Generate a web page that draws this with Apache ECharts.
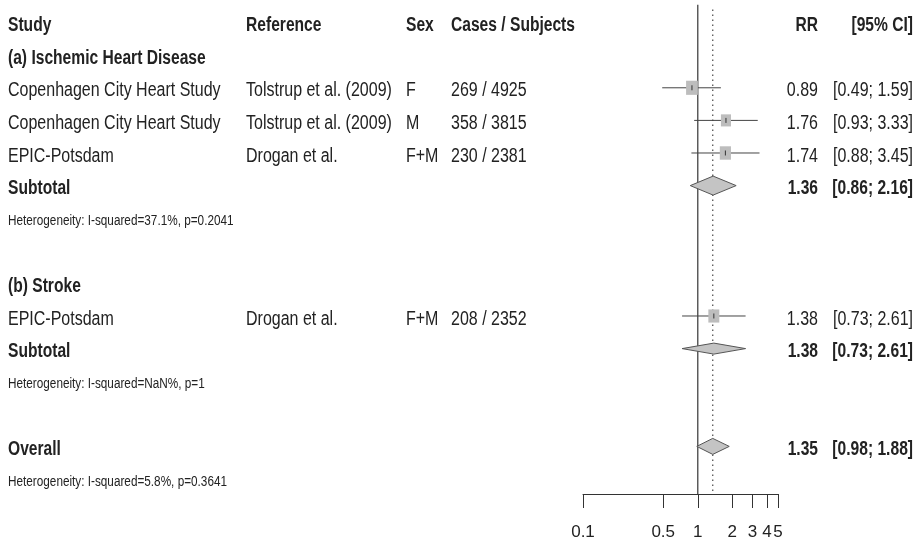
<!DOCTYPE html>
<html>
<head>
<meta charset="utf-8">
<title>Forest plot</title>
<script src="https://cdn.jsdelivr.net/npm/echarts@6/dist/echarts.min.js"></script>
<style>
  html, body { margin: 0; padding: 0; background: #fff; }
  #chart { width: 917px; height: 548px; }
</style>
</head>
<body>
<div id="chart"></div>
<script>
// ---- data ----
const headers = ['Study', 'Reference', 'Sex', 'Cases / Subjects', 'RR', '[95% CI]'];

const studyNames = ['Copenhagen City Heart Study', 'Copenhagen City Heart Study', 'EPIC-Potsdam', 'EPIC-Potsdam'];
const studyRefs = ['Tolstrup et al. (2009)', 'Tolstrup et al. (2009)', 'Drogan et al.', 'Drogan et al.'];
const studySex = ['F', 'M', 'F+M', 'F+M'];
const studyCases = ['269 / 4925', '358 / 3815', '230 / 2381', '208 / 2352'];
const studyRR = [0.89, 1.76, 1.74, 1.38];
const studyLow = [0.49, 0.93, 0.88, 0.73];
const studyHigh = [1.59, 3.33, 3.45, 2.61];
const studyWeight = [30, 22, 27, 26];
const studyRow = [2, 3, 4, 9];

const groupLabels = ['(a) Ischemic Heart Disease', '(b) Stroke'];
const groupRow = [1, 8];

const pooledLabels = ['Subtotal', 'Subtotal', 'Overall'];
const pooledRR = [1.36, 1.38, 1.35];
const pooledLow = [0.86, 0.73, 0.98];
const pooledHigh = [2.16, 2.61, 1.88];
const pooledRow = [5, 10, 13];

const hetLabels = [
  'Heterogeneity: I-squared=37.1%, p=0.2041',
  'Heterogeneity: I-squared=NaN%, p=1',
  'Heterogeneity: I-squared=5.8%, p=0.3641'
];
const hetRow = [6, 11, 14];

const xTicks = [0.1, 0.5, 1, 2, 3, 4, 5];
const nullValue = 1;

// ---- layout / styles ----
const ROW_MIN = -0.693;
const ROW_MAX = 14.46;
const COLS = [
  { x: 8, align: 'left' },
  { x: 246, align: 'left' },
  { x: 406, align: 'left' },
  { x: 451, align: 'left' },
  { x: 818, align: 'right' },
  { x: 913, align: 'right' }
];
// text is drawn horizontally condensed like the original figure
const FONTS = {
  plain: { size: 20, weight: 'normal', scale: 0.8 },
  bold: { size: 19.5, weight: 'bold', scale: 0.8 },
  small: { size: 14, weight: 'normal', scale: 0.84 }
};
const TEXT_DY = 3;
const FAMILY = '"Liberation Sans", Arial, sans-serif';
const SQUARE_K = 2.15;
const DIAMOND_HALF = [9.5, 5.5, 8];

const ci = (lo, hi) => '[' + lo.toFixed(2) + '; ' + hi.toFixed(2) + ']';

// table text
const texts = [];
function put (col, row, text, kind) {
  texts.push({ value: [COLS[col].x, row], text: text, align: COLS[col].align, kind: kind });
}
headers.forEach((h, i) => put(i, 0, h, 'bold'));
groupLabels.forEach((g, i) => put(0, groupRow[i], g, 'bold'));
studyNames.forEach((n, i) => {
  const r = studyRow[i];
  put(0, r, n, 'plain');
  put(1, r, studyRefs[i], 'plain');
  put(2, r, studySex[i], 'plain');
  put(3, r, studyCases[i], 'plain');
  put(4, r, studyRR[i].toFixed(2), 'plain');
  put(5, r, ci(studyLow[i], studyHigh[i]), 'plain');
});
pooledLabels.forEach((p, i) => {
  const r = pooledRow[i];
  put(0, r, p, 'bold');
  put(4, r, pooledRR[i].toFixed(2), 'bold');
  put(5, r, ci(pooledLow[i], pooledHigh[i]), 'bold');
});
hetLabels.forEach((h, i) => put(0, hetRow[i], h, 'small'));

const studyData = studyRR.map((v, i) => [v, studyRow[i], studyLow[i], studyHigh[i], studyWeight[i]]);
const pooledData = pooledRR.map((v, i) => [v, pooledRow[i], pooledLow[i], pooledHigh[i]]);
// solid line at no effect, dotted line at the overall estimate
const refData = [[nullValue, -0.55, 0], [pooledRR[2], -0.4, 1]];

const chart = echarts.init(document.getElementById('chart'));
chart.setOption({
  animation: false,
  grid: [
    { left: 583, width: 195, top: 0, height: 494 },
    { left: 0, width: 917, top: 0, height: 494 }
  ],
  xAxis: [
    {
      type: 'log',
      logBase: 10,
      gridIndex: 0,
      position: 'bottom',
      min: 0.1,
      max: 5,
      splitLine: { show: false },
      axisLine: { onZero: false, lineStyle: { color: '#333', width: 1 } },
      axisTick: { customValues: xTicks, length: 14, lineStyle: { color: '#333', width: 1 } },
      axisLabel: {
        customValues: xTicks,
        margin: 30,
        fontSize: 17,
        fontFamily: FAMILY,
        color: '#222',
        hideOverlap: false,
        formatter: v => String(Math.round(v * 10) / 10)
      }
    },
    { type: 'value', gridIndex: 1, min: 0, max: 917, show: false }
  ],
  yAxis: [
    { type: 'value', gridIndex: 0, inverse: true, min: ROW_MIN, max: ROW_MAX, show: false },
    { type: 'value', gridIndex: 1, inverse: true, min: ROW_MIN, max: ROW_MAX, show: false }
  ],
  series: [
    {
      name: 'reference',
      type: 'custom',
      xAxisIndex: 0,
      yAxisIndex: 0,
      z: 1,
      data: refData,
      renderItem: function (params, api) {
        const top = api.coord([api.value(0), api.value(1)]);
        const bottom = api.coord([api.value(0), ROW_MAX]);
        const dotted = api.value(2) === 1;
        return {
          type: 'line',
          shape: { x1: top[0], y1: top[1], x2: bottom[0], y2: bottom[1] },
          style: { stroke: dotted ? '#555' : '#444', lineWidth: 1.3, lineDash: dotted ? [1.5, 3.5] : null }
        };
      }
    },
    {
      name: 'studies',
      type: 'custom',
      xAxisIndex: 0,
      yAxisIndex: 0,
      z: 3,
      data: studyData,
      renderItem: function (params, api) {
        const row = api.value(1);
        const est = api.coord([api.value(0), row]);
        const lo = api.coord([api.value(2), row]);
        const hi = api.coord([api.value(3), row]);
        const w = SQUARE_K * Math.sqrt(api.value(4));
        const h = w * 1.2;
        return {
          type: 'group',
          children: [
            { type: 'line', shape: { x1: lo[0], y1: lo[1], x2: hi[0], y2: hi[1] }, style: { stroke: '#444', lineWidth: 1 } },
            { type: 'rect', shape: { x: est[0] - w / 2, y: est[1] - h / 2, width: w, height: h }, style: { fill: '#bdbdbd' } },
            { type: 'line', shape: { x1: est[0], y1: est[1] - 2.5, x2: est[0], y2: est[1] + 2.5 }, style: { stroke: '#333', lineWidth: 1 } }
          ]
        };
      }
    },
    {
      name: 'pooled',
      type: 'custom',
      xAxisIndex: 0,
      yAxisIndex: 0,
      z: 3,
      data: pooledData,
      renderItem: function (params, api) {
        const row = api.value(1);
        const c = api.coord([api.value(0), row]);
        const lo = api.coord([api.value(2), row]);
        const hi = api.coord([api.value(3), row]);
        const dh = DIAMOND_HALF[params.dataIndex];
        return {
          type: 'polygon',
          shape: { points: [[lo[0], c[1]], [c[0], c[1] - dh], [hi[0], c[1]], [c[0], c[1] + dh]] },
          style: { fill: '#c4c4c4', stroke: '#555', lineWidth: 1 }
        };
      }
    },
    {
      name: 'table',
      type: 'custom',
      xAxisIndex: 1,
      yAxisIndex: 1,
      z: 4,
      data: texts,
      renderItem: function (params, api) {
        const p = api.coord([api.value(0), api.value(1)]);
        const t = texts[params.dataIndex];
        const f = FONTS[t.kind];
        return {
          type: 'text',
          x: p[0],
          y: p[1] + TEXT_DY,
          scaleX: f.scale,
          style: {
            text: t.text,
            x: 0,
            y: 0,
            align: t.align,
            verticalAlign: 'middle',
            font: f.weight + ' ' + f.size + 'px ' + FAMILY,
            fill: '#222'
          }
        };
      }
    }
  ]
});
</script>
</body>
</html>
